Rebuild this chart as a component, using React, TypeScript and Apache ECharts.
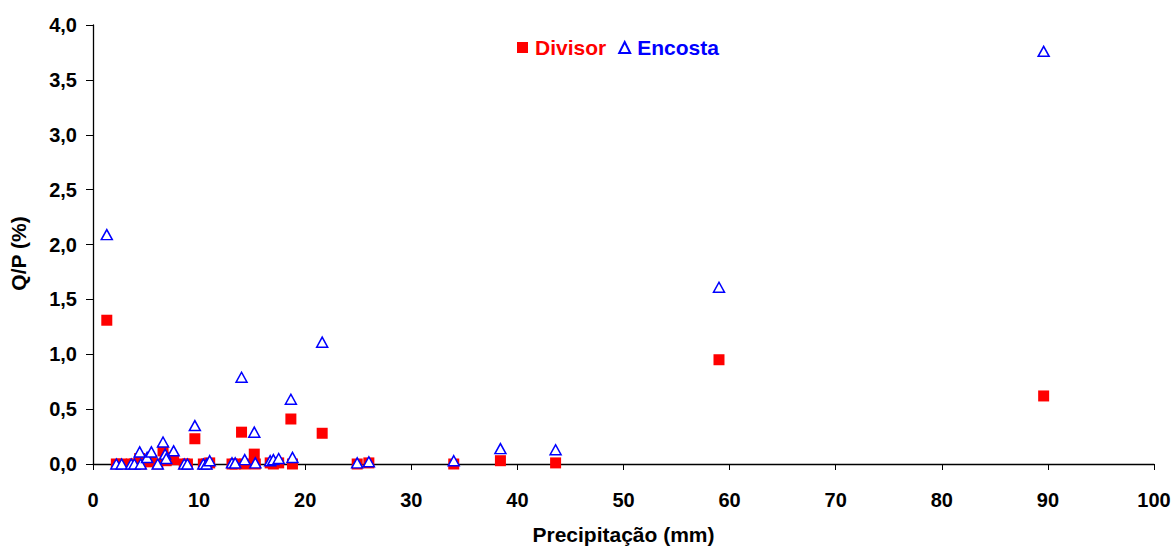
import React, { useEffect, useRef } from "react";
import * as echarts from "echarts";

const precip: number[] = [1.3, 2.2, 2.7, 3.6, 3.9, 4.4, 4.5, 5.1, 5.5, 6.1, 6.6, 6.8, 6.9, 7.6, 8.6, 8.9, 9.6, 10.4, 10.7, 11.0, 13.1, 13.4, 14.0, 14.3, 15.2, 15.3, 16.7, 17.0, 17.5, 18.65, 18.8, 21.6, 24.9, 26.0, 34.0, 38.4, 43.6, 59.0, 89.6];
const divisor: number[] = [1.31, 0, 0, 0, 0, 0.05, 0, 0.02, 0.03, 0, 0.12, 0.06, 0.03, 0.04, 0, 0, 0.23, 0, 0, 0.01, 0, 0, 0.29, 0, 0.09, 0, 0.01, 0, 0.01, 0.41, 0, 0.28, 0, 0.01, 0, 0.03, 0.01, 0.95, 0.62];
const encosta: number[] = [2.09, 0, 0, 0, 0, 0.11, 0, 0.06, 0.11, 0, 0.2, 0.09, 0.05, 0.12, 0, 0, 0.35, 0, 0, 0.03, 0.01, 0.01, 0.79, 0.04, 0.29, 0.01, 0.03, 0.04, 0.05, 0.59, 0.06, 1.11, 0.01, 0.02, 0.03, 0.14, 0.13, 1.61, 3.76];

const seriesNames = ["Divisor", "Encosta"];
const FONT = "'Liberation Sans', Arial, sans-serif";

export default function App() {
  const ref = useRef<HTMLDivElement>(null);
  useEffect(() => {
    if (!ref.current) return;
    const chart = echarts.init(ref.current, null, { renderer: "svg" });
    chart.setOption({
      animation: false,
      backgroundColor: "#ffffff",
      textStyle: { fontFamily: FONT },
      grid: { left: 91, right: 22, top: 25, bottom: 81, containLabel: false },
      legend: {
        left: 512,
        top: 32,
        itemWidth: 11,
        itemHeight: 11,
        itemGap: 12,
        data: [
          { name: seriesNames[0], textStyle: { color: "#ff0000" } },
          { name: seriesNames[1], textStyle: { color: "#0000ff" } },
        ],
        textStyle: { fontFamily: FONT, fontWeight: "bold", fontSize: 21, padding: [0, 0, 0, 2] },
      },
      xAxis: {
        type: "value",
        min: 0,
        max: 100,
        interval: 10,
        name: "Precipitação (mm)",
        nameLocation: "middle",
        nameGap: 60,
        nameTextStyle: { fontFamily: FONT, fontWeight: "bold", fontSize: 21, color: "#000" },
        axisLine: { onZero: false, lineStyle: { color: "#000", width: 1.3 } },
        axisTick: { show: true, inside: false, length: 6, lineStyle: { color: "#000" } },
        axisLabel: { fontFamily: FONT, fontWeight: "bold", fontSize: 20, color: "#000", margin: 26 },
        splitLine: { show: false },
      },
      yAxis: {
        type: "value",
        min: 0,
        max: 4,
        interval: 0.5,
        name: "Q/P (%)",
        nameLocation: "middle",
        nameGap: 64,
        nameTextStyle: { fontFamily: FONT, fontWeight: "bold", fontSize: 21, color: "#000", padding: [0, 18, 0, 0] },
        axisLine: { show: true, lineStyle: { color: "#000", width: 1.3 } },
        axisTick: { show: true, inside: false, length: 7, lineStyle: { color: "#000" } },
        axisLabel: {
          fontFamily: FONT,
          fontWeight: "bold",
          fontSize: 20,
          color: "#000",
          margin: 16,
          formatter: (v: number) => v.toFixed(1).replace(".", ","),
        },
        splitLine: { show: false },
      },
      series: [
        {
          name: seriesNames[0],
          type: "scatter",
          symbol: "rect",
          symbolSize: 11,
          itemStyle: { color: "#ff0000", opacity: 1 },
          data: precip.map((p, i) => [p, divisor[i]]),
          z: 2,
        },
        {
          name: seriesNames[1],
          type: "scatter",
          symbol: "triangle",
          symbolSize: [11, 10],
          itemStyle: { color: "#ffffff", borderColor: "#0000ff", borderWidth: 1.5, opacity: 1 },
          data: precip.map((p, i) => [p, encosta[i]]),
          z: 3,
        },
      ],
    });
    return () => chart.dispose();
  }, []);
  return <div ref={ref} style={{ width: 1176, height: 550, position: "absolute", left: 0, top: 0 }} />;
}
